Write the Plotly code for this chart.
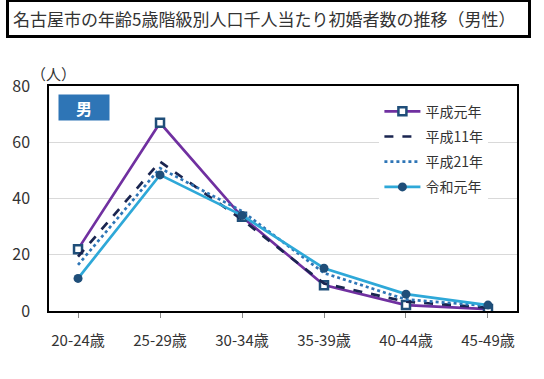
import plotly.graph_objects as go

categories = ["20-24歳", "25-29歳", "30-34歳", "35-39歳", "40-44歳", "45-49歳"]
h1 = [22.0, 66.9, 33.5, 9.2, 2.1, 0.7]
h11 = [19.3, 53.1, 32.5, 9.8, 3.3, 1.2]
h21 = [16.4, 50.8, 35.5, 13.5, 4.1, 1.8]
r1 = [11.6, 48.4, 34.0, 15.2, 6.0, 2.1]
series_names = ["平成元年", "平成11年", "平成21年", "令和元年"]
y_ticks = [0, 20, 40, 60, 80]

FONT = "Noto Sans CJK JP"
fig = go.Figure()
fig.add_trace(go.Scatter(x=categories, y=h1, name=series_names[0], mode="lines+markers",
                         legendgroup="a",
                         line=dict(color="#7030a0", width=2.7),
                         marker=dict(symbol="square", size=8, color="white",
                                     line=dict(color="#1f4e79", width=2.5))))
fig.add_trace(go.Scatter(x=categories, y=h11, name=series_names[1], mode="lines",
                         legendgroup="b",
                         line=dict(color="#1a2550", width=2.7, dash="dash")))
fig.add_trace(go.Scatter(x=categories, y=h21, name=series_names[2], mode="lines",
                         legendgroup="c",
                         line=dict(color="#2e75b6", width=2.7, dash="dot")))
fig.add_trace(go.Scatter(x=categories, y=r1, name=series_names[3], mode="lines+markers",
                         legendgroup="d",
                         line=dict(color="#2ea8d8", width=2.7),
                         marker=dict(symbol="circle", size=9, color="#1f4e79")))

fig.update_layout(
    width=544, height=379,
    paper_bgcolor="white", plot_bgcolor="white",
    margin=dict(l=40, r=27, t=86, b=68),
    font=dict(family=FONT, size=14, color="#333333"),
    showlegend=True,
    legend=dict(x=0.706, y=0.957, xanchor="left", yanchor="top",
                bgcolor="white", tracegroupgap=4, itemwidth=36,
                font=dict(size=14, color="#333333")),
    xaxis=dict(type="category", showgrid=False, showline=True, linecolor="black",
               linewidth=1.5, mirror=True, ticks="outside", ticklen=5, tickcolor="#888",
               tickfont=dict(size=15, color="#333333"), ticklabelstandoff=10),
    yaxis=dict(range=[0, 80], tickvals=y_ticks, showgrid=True, gridcolor="#d9d9d9",
               showline=True, linecolor="black", linewidth=1.5, mirror=True,
               ticks="", tickfont=dict(size=16, color="#333333"), ticklabelstandoff=14,
               zeroline=False),
    annotations=[
        dict(text="名古屋市の年齢5歳階級別人口千人当たり初婚者数の推移（男性）",
             xref="paper", yref="paper", x=-0.092, y=1.302, xanchor="left", yanchor="middle",
             showarrow=False, font=dict(size=17, color="#333333"),
             bordercolor="black", borderwidth=3, borderpad=4, bgcolor="white",
             width=511, align="left"),
        dict(text="（人）", xref="paper", yref="paper", x=-0.043, y=1.0, xanchor="left",
             yanchor="bottom", showarrow=False, font=dict(size=15, color="#333333")),
        dict(text="<b>男</b>", xref="paper", yref="paper", x=0.0187, y=0.965,
             xanchor="left", yanchor="top", showarrow=False,
             font=dict(size=16, color="white"), bgcolor="#2e75b6",
             width=46, height=21, borderpad=2),
    ],
)
fig.write_html("out.html", config={"displayModeBar": False},
               post_script="document.body.style.margin='0';")
